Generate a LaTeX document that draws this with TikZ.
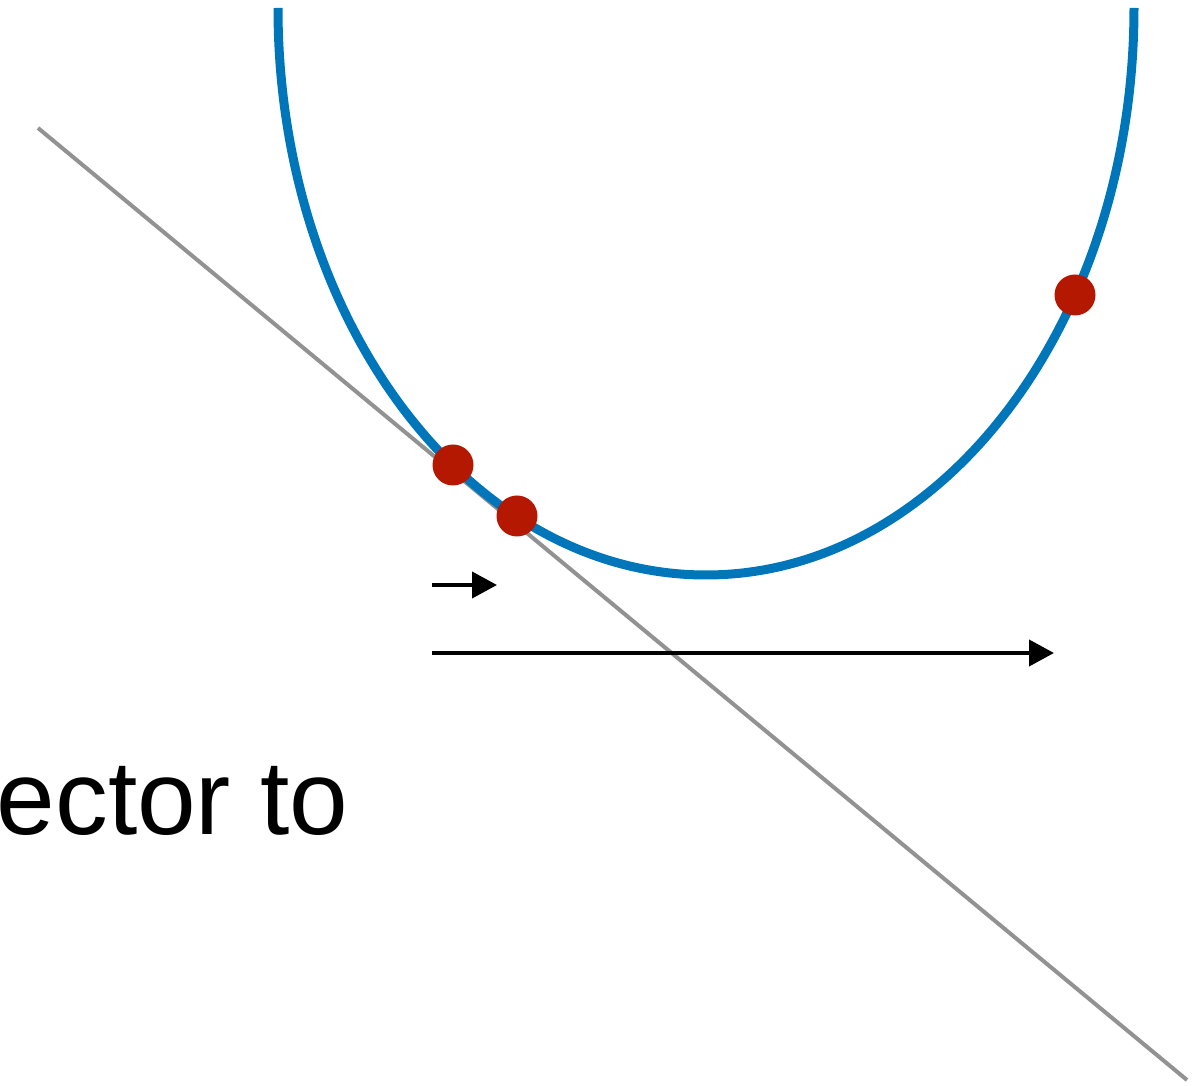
\documentclass[tikz,border=0pt]{standalone}
\usepackage{fontspec}
\setmainfont{Liberation Sans}
\usetikzlibrary{positioning, arrows.meta}

\definecolor{curveblue}{HTML}{0076BA}
\definecolor{dotred}{HTML}{B51800}
\definecolor{linegray}{HTML}{929292}

\begin{document}
\begin{tikzpicture}[>={Triangle[length=0.25cm,width=0.26cm]},
  dot/.style={circle, fill=dotred, inner sep=0pt, minimum size=0.41cm},
  vec/.style={->, line width=0.04cm}]
\useasboundingbox (0,0) rectangle (12,-10.86);
\clip (0,0) rectangle (12,-10.86);

% gray secant line
\coordinate (g1) at (0.38,-1.28);
\coordinate (g2) at (11.87,-10.80);
\draw[linegray, line width=0.04cm] (g1) -- (g2);

% blue curve (lower half of an ellipse)
\draw[curveblue, line width=0.09cm] (2.78,-0.08)
  arc[start angle=180, end angle=360, x radius=4.28cm, y radius=5.67cm];

% red points on the curve
\node[dot] (p1) at (4.53,-4.65) {};
\node[dot] (p2) at (5.17,-5.16) {};
\node[dot] (p3) at (10.75,-2.95) {};

% --- short and long vectors ---
\coordinate (s0) at (4.32,-5.85);
\coordinate (s1) at (4.97,-5.85);
\draw[vec] (s0) -- (s1);
\coordinate (l0) at (4.32,-6.53);
\coordinate (l1) at (10.54,-6.53);
\draw[vec] (l0) -- (l1);

% text cut at the left border
\node[anchor=base west, inner sep=0pt, font=\fontsize{30}{36}\selectfont] (txt) at (-0.04,-8.35) {ector to};

\end{tikzpicture}
\end{document}
